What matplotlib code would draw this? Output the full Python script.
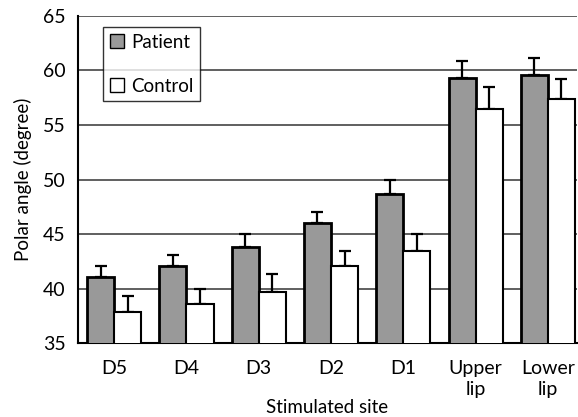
import numpy as np
import matplotlib.pyplot as plt

plt.rcParams['font.family'] = ['Lato', 'DejaVu Sans']

sites = ["D5", "D4", "D3", "D2", "D1", "Upper\nlip", "Lower\nlip"]
patient = [41.05, 42.1, 43.8, 46.0, 48.7, 59.3, 59.6]
patient_err = [1.05, 1.0, 1.25, 1.0, 1.3, 1.55, 1.5]
control = [37.85, 38.55, 39.65, 42.1, 43.45, 56.45, 57.35]
control_err = [1.5, 1.4, 1.65, 1.35, 1.6, 2.05, 1.9]

fig = plt.figure(figsize=(5.78, 4.17), dpi=100)
ax = fig.add_axes([0.135, 0.177, 0.863, 0.785])

x = np.arange(len(sites))
w = 0.375
ax.bar(x - w / 2, patient, w, color="#999999", edgecolor="black",
       linewidth=2, label="Patient", zorder=3)
ax.bar(x + w / 2, control, w, color="white", edgecolor="black",
       linewidth=1.5, label="Control", zorder=3)
ax.errorbar(x - w / 2, patient, yerr=[np.zeros(len(x)), patient_err], fmt="none",
            ecolor="black", elinewidth=1.6, capsize=4.5, capthick=1.6, zorder=2)
ax.errorbar(x + w / 2, control, yerr=[np.zeros(len(x)), control_err], fmt="none",
            ecolor="black", elinewidth=1.6, capsize=4.5, capthick=1.6, zorder=2)

ax.set_ylim(35, 65)
ax.set_xlim(-0.5, 6.4)
ax.set_yticks([35, 40, 45, 50, 55, 60, 65])
ax.set_xticks(x)
ax.set_xticklabels(sites, linespacing=1.3)
ax.yaxis.grid(True, color="#444444", linewidth=1.2, zorder=0)
ax.set_axisbelow(True)
ax.tick_params(axis="x", length=0, pad=12, labelsize=14)
ax.tick_params(axis="y", length=0, pad=9, labelsize=14)
for s in ["top", "right"]:
    ax.spines[s].set_visible(False)
for s in ["left", "bottom"]:
    ax.spines[s].set_linewidth(1.5)

ax.set_ylabel("Polar angle (degree)", fontsize=13.5, labelpad=8)
ax.set_xlabel("Stimulated site", fontsize=13.5)
ax.xaxis.set_label_coords(0.5, -0.17)

leg = ax.legend(loc="upper left", bbox_to_anchor=(0.05, 0.966), frameon=True,
                fancybox=False, edgecolor="black", fontsize=13.5, handlelength=0.75,
                handleheight=0.75, handletextpad=0.4, labelspacing=1.45,
                borderpad=0.35, borderaxespad=0)
leg.get_frame().set_linewidth(1.0)
for h in leg.legend_handles:
    h.set_linewidth(1.0)

fig.savefig("out.png", dpi=100)
